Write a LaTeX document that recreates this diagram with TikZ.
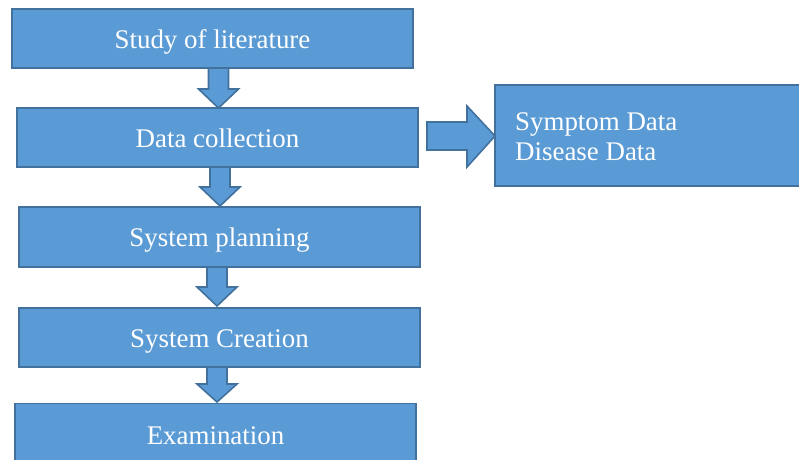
\documentclass[tikz,border=0pt]{standalone}
\usepackage{fontspec}
\setmainfont{Liberation Serif}
\definecolor{boxfill}{HTML}{5B9BD5}
\definecolor{boxline}{HTML}{41719C}
\tikzset{
  stepbox/.style={draw=boxline, fill=boxfill, line width=1.6pt, text=white,
    minimum width=401pt, minimum height=59pt, inner sep=0pt,
    text height=20pt, text depth=1pt,
    font=\fontsize{26.9}{30}\selectfont},
  blockarrow/.style={draw=boxline, fill=boxfill, line width=1.6pt, line join=miter},
}
\newcommand\flowdownarrow[4]{% cx, top, headbase, tip
  \draw[blockarrow] (#1-10,#2) -- (#1+10,#2) -- (#1+10,#3) -- (#1+20,#3) -- (#1,#4)
    -- (#1-20,#3) -- (#1-10,#3) -- cycle;}
\begin{document}
\begin{tikzpicture}[x=1pt,y=-1pt]
\useasboundingbox (0,0) rectangle (799,459);
\clip (0,0) rectangle (799,459);
\fill[white] (0,0) rectangle (799,459);
\node[stepbox] (b1) at (212.5,38.5) {Study of literature};
\node[stepbox] (b2) at (217.5,137.5) {Data collection};
\node[stepbox, minimum height=60pt] (b3) at (219.5,237) {System planning};
\node[stepbox] (b4) at (219.5,337.5) {System Creation};
\node[stepbox, minimum height=62pt] (b5) at (215.5,434.5) {Examination};
\node[draw=boxline, fill=boxfill, line width=1.6pt, minimum width=360pt, minimum height=101pt,
      inner sep=0pt, anchor=north west] (rb) at (494,84) {};
\node[text=white, font=\fontsize{26.9}{30}\selectfont, align=left, inner sep=0pt,
      anchor=base west] (rt) at (515,160) {Symptom Data\\Disease Data};
\flowdownarrow{218.5}{68}{89}{108}
\flowdownarrow{220}{167}{187}{206}
\flowdownarrow{217}{267}{287}{306}
\flowdownarrow{217}{367}{384}{402}
\draw[blockarrow] (427,122) -- (467,122) -- (467,106) -- (495,136) -- (467,167) -- (467,150) -- (427,150) -- cycle;
\end{tikzpicture}
\end{document}
